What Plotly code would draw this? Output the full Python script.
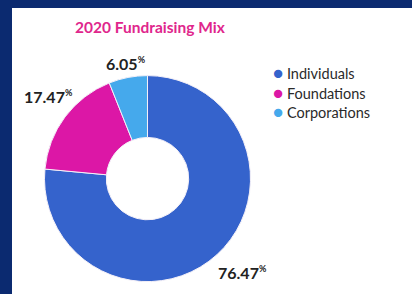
import plotly.graph_objects as go

title = "2020 Fundraising Mix"
categories = ["Individuals", "Foundations", "Corporations"]
values = [76.47, 17.47, 6.05]
colors = ["#3563cc", "#dc17a6", "#45a9ec"]

# label anchor positions (paper coords) for the value labels
label_pos = [(0.588, 0.072), (0.118, 0.673), (0.305, 0.785)]

fig = go.Figure()
fig.add_trace(go.Pie(
    labels=categories, values=values, sort=False, direction="clockwise", rotation=0,
    hole=0.40, marker=dict(colors=colors, line=dict(color="#f4f0f8", width=1)),
    textinfo="none", hoverinfo="label+value", showlegend=False,
    domain=dict(x=[0.108, 0.608], y=[0.042, 0.743]),
))

annotations = []
for v, (x, y) in zip(values, label_pos):
    annotations.append(dict(
        x=x, y=y, xref="paper", yref="paper", showarrow=False,
        xanchor="center", yanchor="middle",
        text=f"<b>{v:.2f}<sup><span style='font-size:9px'>%</span></sup></b>",
        font=dict(family="Lato", size=16, color="#222222"),
    ))
annotations.append(dict(
    x=0.365, y=0.908, xref="paper", yref="paper", showarrow=False,
    xanchor="center", yanchor="middle",
    text=f"<b>{title}</b>", font=dict(family="Lato", size=15.5, color="#e0268c"),
))
for i, (cat, col) in enumerate(zip(categories, colors)):
    annotations.append(dict(
        x=0.658, y=0.752 - i * 0.065, xref="paper", yref="paper", showarrow=False,
        xanchor="left", yanchor="middle",
        text=f"<span style='color:{col};font-size:17px'>●</span> {cat}",
        font=dict(family="Lato", size=14.5, color="#2a2a2a"),
    ))

fig.update_layout(
    width=412, height=294, margin=dict(l=0, r=0, t=0, b=0),
    paper_bgcolor="#0b2a70", plot_bgcolor="white",
    shapes=[dict(type="rect", xref="paper", yref="paper", x0=12/412, x1=1.0, y0=0, y1=1-8/294,
                 fillcolor="white", line=dict(width=0), layer="below")],
    annotations=annotations,
)
fig.write_html("out.html", config={"displayModeBar": False},
               post_script="document.body.style.margin='0';")
